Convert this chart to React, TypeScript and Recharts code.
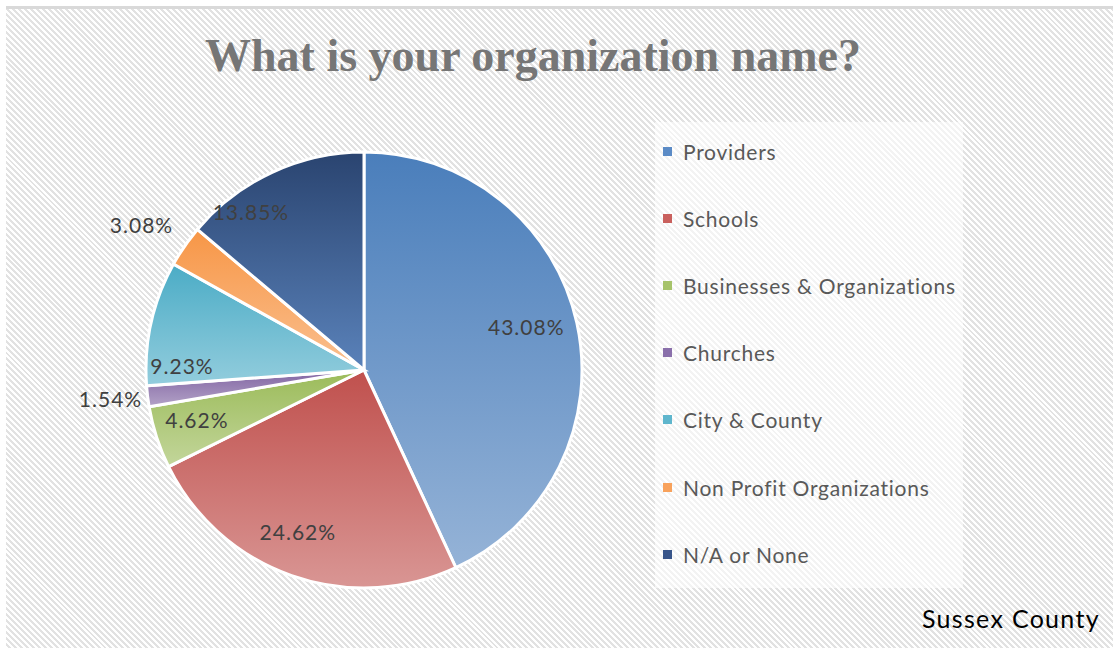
import React from "react";
import { PieChart, Pie, Cell, Legend } from "recharts";

const categories = [
  "Providers",
  "Schools",
  "Businesses & Organizations",
  "Churches",
  "City & County",
  "Non Profit Organizations",
  "N/A or None",
];
const counts = [28, 16, 3, 1, 6, 2, 9];
const percentLabels = ["43.08%", "24.62%", "4.62%", "1.54%", "9.23%", "3.08%", "13.85%"];

const TITLE = "What is your organization name?";
const FOOTNOTE = "Sussex County";

// style: gradient top / bottom colours for each slice
const topColors = ["#4a7ebb", "#c0504d", "#9bbb59", "#8064a2", "#4bacc6", "#f79646", "#2a4470"];
const bottomColors = ["#95b3d7", "#d99694", "#c3d69b", "#b3a2c7", "#93cddd", "#fac090", "#5a82ba"];
const legendColors = ["#5b8bc6", "#c9605d", "#a6c36a", "#8a70ab", "#5fb6cd", "#f8a25c", "#38558a"];
// style: label placement (angle shift in degrees clockwise, radius factor)
const labelPlacement: [number, number][] = [
  [-2.4, 0.77],
  [2.9, 0.8],
  [1.4, 0.8],
  [0.6, 1.17],
  [-10.9, 0.835],
  [-1.4, 1.22],
  [-10.5, 0.895],
];

const data = categories.map((name, i) => ({ name, value: counts[i] }));

const RAD = Math.PI / 180;
const FONT = "Lato, 'Open Sans', sans-serif";

const renderLabel = (props: any) => {
  const { cx, cy, midAngle, outerRadius, index } = props;
  const [shift, rf] = labelPlacement[index];
  const ang = midAngle - shift; // recharts angles are counter-clockwise
  const r = outerRadius * rf;
  const x = cx + r * Math.cos(-ang * RAD);
  const y = cy + r * Math.sin(-ang * RAD);
  return (
    <text
      x={x}
      y={y}
      textAnchor="middle"
      dominantBaseline="central"
      fill="#404040"
      style={{ fontFamily: FONT, fontSize: 21, letterSpacing: 1 }}
    >
      {percentLabels[index]}
    </text>
  );
};

const renderLegend = () => {
  return (
    <div
      style={{
        width: 308,
        height: 466,
        background: "rgba(255,255,255,0.6)",
        position: "relative",
      }}
    >
      {categories.map((name, i) => (
        <div
          key={i}
          style={{
            position: "absolute",
            left: 8,
            top: 29.5 + i * 67.1 - 12,
            height: 24,
            display: "flex",
            alignItems: "center",
            fontFamily: FONT,
            fontSize: 21,
            letterSpacing: 0.75,
            color: "#595959",
            whiteSpace: "nowrap",
          }}
        >
          <span
            style={{
              display: "inline-block",
              width: 9,
              height: 9,
              background: legendColors[i],
              marginRight: 11,
            }}
          />
          {name}
        </div>
      ))}
    </div>
  );
};

export default function App() {
  return (
    <div
      style={{
        position: "absolute",
        left: 0,
        top: 0,
        width: 1113,
        height: 652,
        background: "#fff",
        overflow: "hidden",
      }}
    >
      <div
        style={{
          position: "absolute",
          left: 6,
          top: 9,
          right: 0,
          bottom: 4,
          background:
            "repeating-linear-gradient(45deg, #ffffff 0px, #ffffff 2.1px, #e2e2e2 2.1px, #e2e2e2 4.2px)",
        }}
      />
      <div
        style={{
          position: "absolute",
          left: 6,
          top: 6,
          right: 0,
          height: 3,
          background: "#d9d9d9",
        }}
      />
      <div
        style={{
          position: "absolute",
          left: 0,
          width: 1066,
          top: 26,
          textAlign: "center",
          fontFamily: "'Liberation Serif', serif",
          fontWeight: "bold",
          fontSize: 46,
          color: "#767676",
          lineHeight: "60px",
          whiteSpace: "nowrap",
        }}
      >
        {TITLE}
      </div>
      <div
        style={{
          position: "absolute",
          left: 922,
          top: 603,
          fontFamily: FONT,
          fontSize: 25,
          letterSpacing: 1.3,
          color: "#000",
          lineHeight: "30px",
          whiteSpace: "nowrap",
        }}
      >
        {FOOTNOTE}
      </div>
      <div style={{ position: "absolute", left: 0, top: 0 }}>
        <PieChart width={1113} height={652} margin={{ top: 0, right: 0, bottom: 0, left: 0 }}>
          <defs>
            {topColors.map((c, i) => (
              <linearGradient key={i} id={`grad${i}`} x1="0" y1="0" x2="0" y2="1">
                <stop offset="0%" stopColor={c} />
                <stop offset="100%" stopColor={bottomColors[i]} />
              </linearGradient>
            ))}
          </defs>
          <Pie
            data={data}
            dataKey="value"
            nameKey="name"
            cx={364}
            cy={370}
            outerRadius={218}
            startAngle={90}
            endAngle={-270}
            stroke="#ffffff"
            strokeWidth={3}
            label={renderLabel}
            labelLine={false}
            isAnimationActive={false}
          >
            {data.map((_, i) => (
              <Cell key={i} fill={`url(#grad${i})`} />
            ))}
          </Pie>
          <Legend
            layout="vertical"
            align="right"
            verticalAlign="top"
            content={renderLegend}
            wrapperStyle={{ position: "absolute", left: 655, top: 122, width: 308, height: 466 }}
          />
        </PieChart>
      </div>
    </div>
  );
}
